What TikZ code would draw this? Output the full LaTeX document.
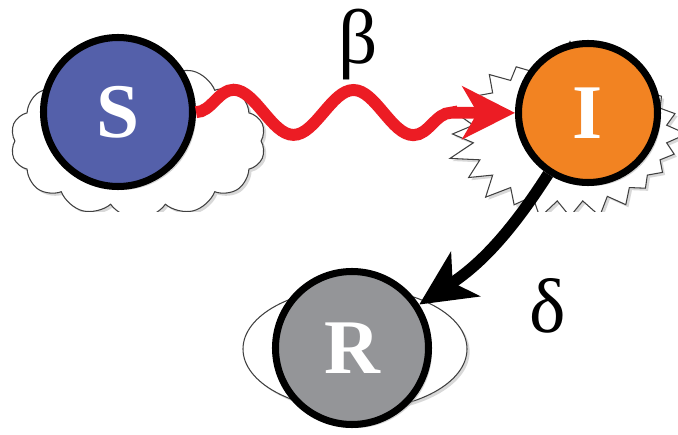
\documentclass[tikz,border=0pt]{standalone}
\usepackage{fontspec}
\setmainfont{Liberation Serif}
\usetikzlibrary{shapes.symbols,shapes.geometric,shadows,decorations.pathmorphing,arrows.meta}
\definecolor{sblue}{RGB}{84,96,170}
\definecolor{iorange}{RGB}{242,131,34}
\definecolor{rgrey}{RGB}{148,149,152}
\definecolor{wred}{RGB}{236,28,36}

\begin{document}
\begin{tikzpicture}[
  compart/.style={circle,draw=black,line width=4pt,minimum size=#1,text=white,
    font=\fontsize{44}{50}\selectfont\bfseries,
    drop shadow={shadow xshift=2pt,shadow yshift=-2pt,fill=black!35}},
  halo/.style={draw=black!75,line width=0.6pt,fill=white,
    drop shadow={shadow xshift=1.5pt,shadow yshift=-1.5pt,fill=black!30}},
  greek/.style={font=\fontsize{44}{50}\selectfont}
]
\useasboundingbox (0,0) rectangle (13.56,8.68);
% Backdrops
\begin{scope}
\clip (0,4.45) rectangle (13.56,8.68);
\node[halo,cloud,cloud puffs=14,cloud puff arc=110,aspect=1.6,minimum width=5.1cm,minimum height=3.1cm] (Scloud) at (2.76,5.86) {};
\node[halo,starburst,starburst points=24,starburst point height=0.55cm,random starburst=7,minimum width=5cm,minimum height=3.8cm] (Iburst) at (11.4,6.0) {};
\end{scope}
\node[halo,ellipse,minimum width=4.48cm,minimum height=2.44cm] (Rring) at (7.1,1.7) {};
% Compartments
\node[compart=2.98cm,fill=sblue] (S) at (2.36,6.44) {S};
\node[compart=2.78cm,fill=iorange] (I) at (11.76,6.42) {I};
\node[compart=3.06cm,fill=rgrey] (R) at (7.04,1.72) {R};
% Infection
\draw[wred,line width=6.8pt,-{Stealth[length=1.05cm,width=1.05cm,inset=0.3cm]},
  decorate,decoration={snake,amplitude=0.45cm,segment length=2.4cm,post length=0.5cm}] (S) -- (I);
\node[greek] (beta) at (7.16,7.78) {β};
% Recovery
\draw[line width=6.5pt,-{Stealth[length=1.1cm,width=1.05cm,inset=0.3cm]}] (I) to[bend left=12] (R);
\node[greek] (delta) at (10.96,2.56) {δ};
\end{tikzpicture}
\end{document}
